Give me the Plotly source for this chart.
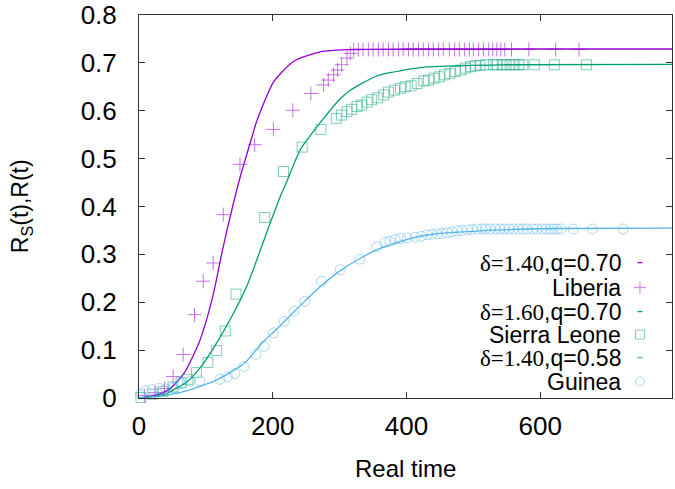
import plotly.graph_objects as go

# ---------------- data ----------------
x_ticks = [0, 200, 400, 600]
y_ticks = [0, 0.1, 0.2, 0.3, 0.4, 0.5, 0.6, 0.7, 0.8]
y_tick_labels = ["0", "0.1", "0.2", "0.3", "0.4", "0.5", "0.6", "0.7", "0.8"]

# model curves (delta, q)
fit_lib_x = [0, 25, 45, 68, 91, 110, 125, 140, 151, 171, 176, 201, 231, 271, 320, 400, 800]
fit_lib_y = [0, 0.006, 0.018, 0.053, 0.12, 0.21, 0.31, 0.40, 0.46, 0.555, 0.578, 0.66, 0.703, 0.723, 0.728, 0.729, 0.729]

fit_sl_x = [0, 20, 43, 73, 93, 113, 128, 161, 196, 211, 221, 241, 271, 301, 316, 351, 366, 420, 440, 540, 800]
fit_sl_y = [0, 0.003, 0.011, 0.035, 0.066, 0.108, 0.143, 0.233, 0.365, 0.42, 0.452, 0.518, 0.575, 0.625, 0.643, 0.670, 0.677, 0.690, 0.692, 0.696, 0.697]

fit_gu_x = [0, 30, 68, 118, 158, 186, 203, 241, 273, 301, 331, 361, 405, 440, 540, 620, 800]
fit_gu_y = [0, 0.004, 0.014, 0.039, 0.073, 0.118, 0.140, 0.193, 0.235, 0.266, 0.292, 0.313, 0.333, 0.342, 0.351, 0.354, 0.355]

# observed data
liberia_x = [8, 24, 38, 51, 66, 83, 96, 111, 126, 151, 173, 201, 230, 257, 276, 283, 291, 297, 303, 311,
             316, 321, 328, 335, 343, 350, 358, 365, 373, 380, 388, 395, 403, 410, 418, 425, 433, 440, 448, 455,
             464, 472, 479, 487, 494, 500, 508, 515, 523, 529, 535, 541, 547, 557, 583, 623, 658]
liberia_y = [0.005, 0.011, 0.020, 0.045, 0.091, 0.174, 0.244, 0.282, 0.383, 0.488, 0.529, 0.561, 0.601, 0.636, 0.654, 0.664, 0.675, 0.685, 0.696, 0.710,
             0.720, 0.727, 0.728, 0.728, 0.728, 0.728, 0.728, 0.728, 0.728, 0.728, 0.728, 0.728, 0.728, 0.728, 0.728, 0.728, 0.728, 0.728, 0.728, 0.728,
             0.728, 0.728, 0.728, 0.728, 0.728, 0.728, 0.728, 0.728, 0.728, 0.728, 0.728, 0.728, 0.728, 0.728, 0.728, 0.728, 0.728]

sierra_x = [3, 20, 36, 51, 63, 73, 86, 103, 116, 129, 145, 188, 216, 244, 272, 295, 303, 311, 318, 326,
            333, 341, 348, 357, 366, 373, 382, 391, 398, 407, 416, 426, 433, 441, 449, 457, 465, 473, 481, 488,
            496, 503, 510, 519, 530, 536, 543, 549, 555, 561, 568, 574, 591, 621, 669]
sierra_y = [0.001, 0.008, 0.014, 0.023, 0.032, 0.039, 0.053, 0.074, 0.099, 0.140, 0.217, 0.377, 0.473, 0.524, 0.561, 0.584, 0.591, 0.598, 0.603, 0.609,
            0.612, 0.618, 0.623, 0.627, 0.633, 0.639, 0.643, 0.647, 0.650, 0.652, 0.657, 0.662, 0.664, 0.668, 0.671, 0.675, 0.678, 0.682, 0.685, 0.689,
            0.692, 0.694, 0.695, 0.696, 0.696, 0.696, 0.696, 0.696, 0.696, 0.696, 0.696, 0.696, 0.696, 0.696, 0.696]

guinea_x = [2, 10, 20, 30, 40, 51, 63, 76, 91, 121, 132, 143, 157, 175, 187, 201, 217, 232, 248, 273,
            301, 330, 356, 368, 375, 383, 391, 401, 413, 422, 431, 438, 446, 453, 461, 468, 476, 483, 491, 498,
            506, 513, 518, 525, 533, 540, 546, 553, 560, 568, 574, 580, 589, 595, 603, 609, 615, 620, 625, 631,
            649, 678, 724]
guinea_y = [0.008, 0.015, 0.018, 0.020, 0.019, 0.021, 0.030, 0.035, 0.036, 0.039, 0.044, 0.051, 0.066, 0.091, 0.108, 0.136, 0.160, 0.181, 0.202, 0.244,
            0.268, 0.290, 0.316, 0.325, 0.327, 0.331, 0.333, 0.334, 0.336, 0.338, 0.341, 0.342, 0.343, 0.344, 0.345, 0.347, 0.349, 0.350, 0.351, 0.352,
            0.353, 0.353, 0.353, 0.353, 0.353, 0.353, 0.353, 0.353, 0.353, 0.353, 0.353, 0.353, 0.353, 0.353, 0.353, 0.353, 0.353, 0.353, 0.353, 0.353,
            0.353, 0.353, 0.353]

legend_rows = [
    ('<span style="font-family:Liberation Serif">δ=1.40</span>,q=0.70', "line", "#9400D3"),
    ("Liberia", "cross-thin", "#9400D3"),
    ('<span style="font-family:Liberation Serif">δ=1.60</span>,q=0.70', "line", "#009E73"),
    ("Sierra Leone", "square-open", "#009E73"),
    ('<span style="font-family:Liberation Serif">δ=1.40</span>,q=0.58', "line", "#56B4E9"),
    ("Guinea", "circle-open", "#56B4E9"),
]

PURPLE = "#9400D3"
GREEN = "#009E73"
BLUE = "#56B4E9"
FONT = "Liberation Sans"

FIG_W, FIG_H = 675, 489
# plot area in pixels (from the reference)
L, R, T, B = 139.3, 672.0, 15.0, 398.5
W_PX, H_PX = R - L, B - T

fig = go.Figure()

# fitted curves
for xs, ys, col in [(fit_lib_x, fit_lib_y, PURPLE), (fit_sl_x, fit_sl_y, GREEN), (fit_gu_x, fit_gu_y, BLUE)]:
    fig.add_trace(go.Scatter(x=xs, y=ys, mode="lines", line=dict(color=col, width=1.3, shape="spline", smoothing=0.6),
                             showlegend=False, hoverinfo="skip"))

# observed points
fig.add_trace(go.Scatter(x=liberia_x, y=liberia_y, mode="markers", cliponaxis=False, showlegend=False,
                         marker=dict(symbol="cross-thin", size=10, line=dict(color=PURPLE, width=1), opacity=0.55)))
fig.add_trace(go.Scatter(x=sierra_x, y=sierra_y, mode="markers", cliponaxis=False, showlegend=False,
                         marker=dict(symbol="square-open", size=10, color=GREEN, line=dict(color=GREEN, width=1), opacity=0.5)))
fig.add_trace(go.Scatter(x=guinea_x, y=guinea_y, mode="markers", cliponaxis=False, showlegend=False,
                         marker=dict(symbol="circle-open", size=10, color=BLUE, line=dict(color=BLUE, width=1), opacity=0.5)))

# legend (text right-aligned, sample on the right as in the reference)
row_py = [263, 288, 312, 335, 358, 382]
text_right_px = 623
sample_px = 640
annotations = []
for (label, kind, col), py in zip(legend_rows, row_py):
    yp = (B - py) / H_PX
    annotations.append(dict(x=(text_right_px - L) / W_PX, y=yp, xref="paper", yref="paper", text=label,
                            showarrow=False, xanchor="right", yanchor="middle",
                            font=dict(family=FONT, size=23, color="black")))
    if kind == "line":
        fig.add_trace(go.Scatter(x=[(sample_px - 2.5 - L) / W_PX, (sample_px + 2.5 - L) / W_PX], y=[yp, yp],
                                 mode="lines", line=dict(color=col, width=1.3), xaxis="x2", yaxis="y2",
                                 showlegend=False, hoverinfo="skip", cliponaxis=False))
    else:
        fig.add_trace(go.Scatter(x=[(sample_px - L) / W_PX], y=[yp], mode="markers", xaxis="x2", yaxis="y2",
                                 marker=dict(symbol=kind, size=9, color=col, line=dict(color=col, width=1), opacity=0.5),
                                 showlegend=False, hoverinfo="skip", cliponaxis=False))

# axis titles
annotations.append(dict(x=0.5, y=(B - 469) / H_PX, xref="paper", yref="paper", text="Real time",
                        showarrow=False, xanchor="center", yanchor="middle", font=dict(family=FONT, size=24, color="black")))
annotations.append(dict(x=(22 - L) / W_PX, y=0.5, xref="paper", yref="paper", text="R<sub>S</sub>(t),R(t)",
                        showarrow=False, xanchor="center", yanchor="middle", textangle=-90,
                        font=dict(family=FONT, size=23, color="black")))

axis_common = dict(showgrid=False, zeroline=False, showline=True, linecolor="#303030", linewidth=1,
                   mirror="ticks", ticks="inside", ticklen=6, tickcolor="#303030", tickwidth=1,
                   automargin=False, ticklabeloverflow="allow",
                   tickfont=dict(family=FONT, size=26, color="black"))

fig.update_layout(
    width=FIG_W, height=FIG_H,
    margin=dict(l=L, r=FIG_W - R, t=T, b=FIG_H - B, pad=0),
    paper_bgcolor="white", plot_bgcolor="white",
    xaxis=dict(range=[0, 797], tickvals=x_ticks, ticktext=[str(v) for v in x_ticks], ticklabelstandoff=5, **axis_common),
    yaxis=dict(range=[0, 0.8], tickvals=y_ticks, ticktext=y_tick_labels, ticklabelstandoff=16, **axis_common),
    xaxis2=dict(range=[0, 1], overlaying="x", visible=False),
    yaxis2=dict(range=[0, 1], overlaying="y", visible=False),
    annotations=annotations,
    showlegend=False,
)

# remove the default page margin so the 675x489 figure fills the window exactly
fig.write_html("out.html", config={"displayModeBar": False},
               post_script="document.body.style.margin='0';document.body.style.overflow='hidden';")
